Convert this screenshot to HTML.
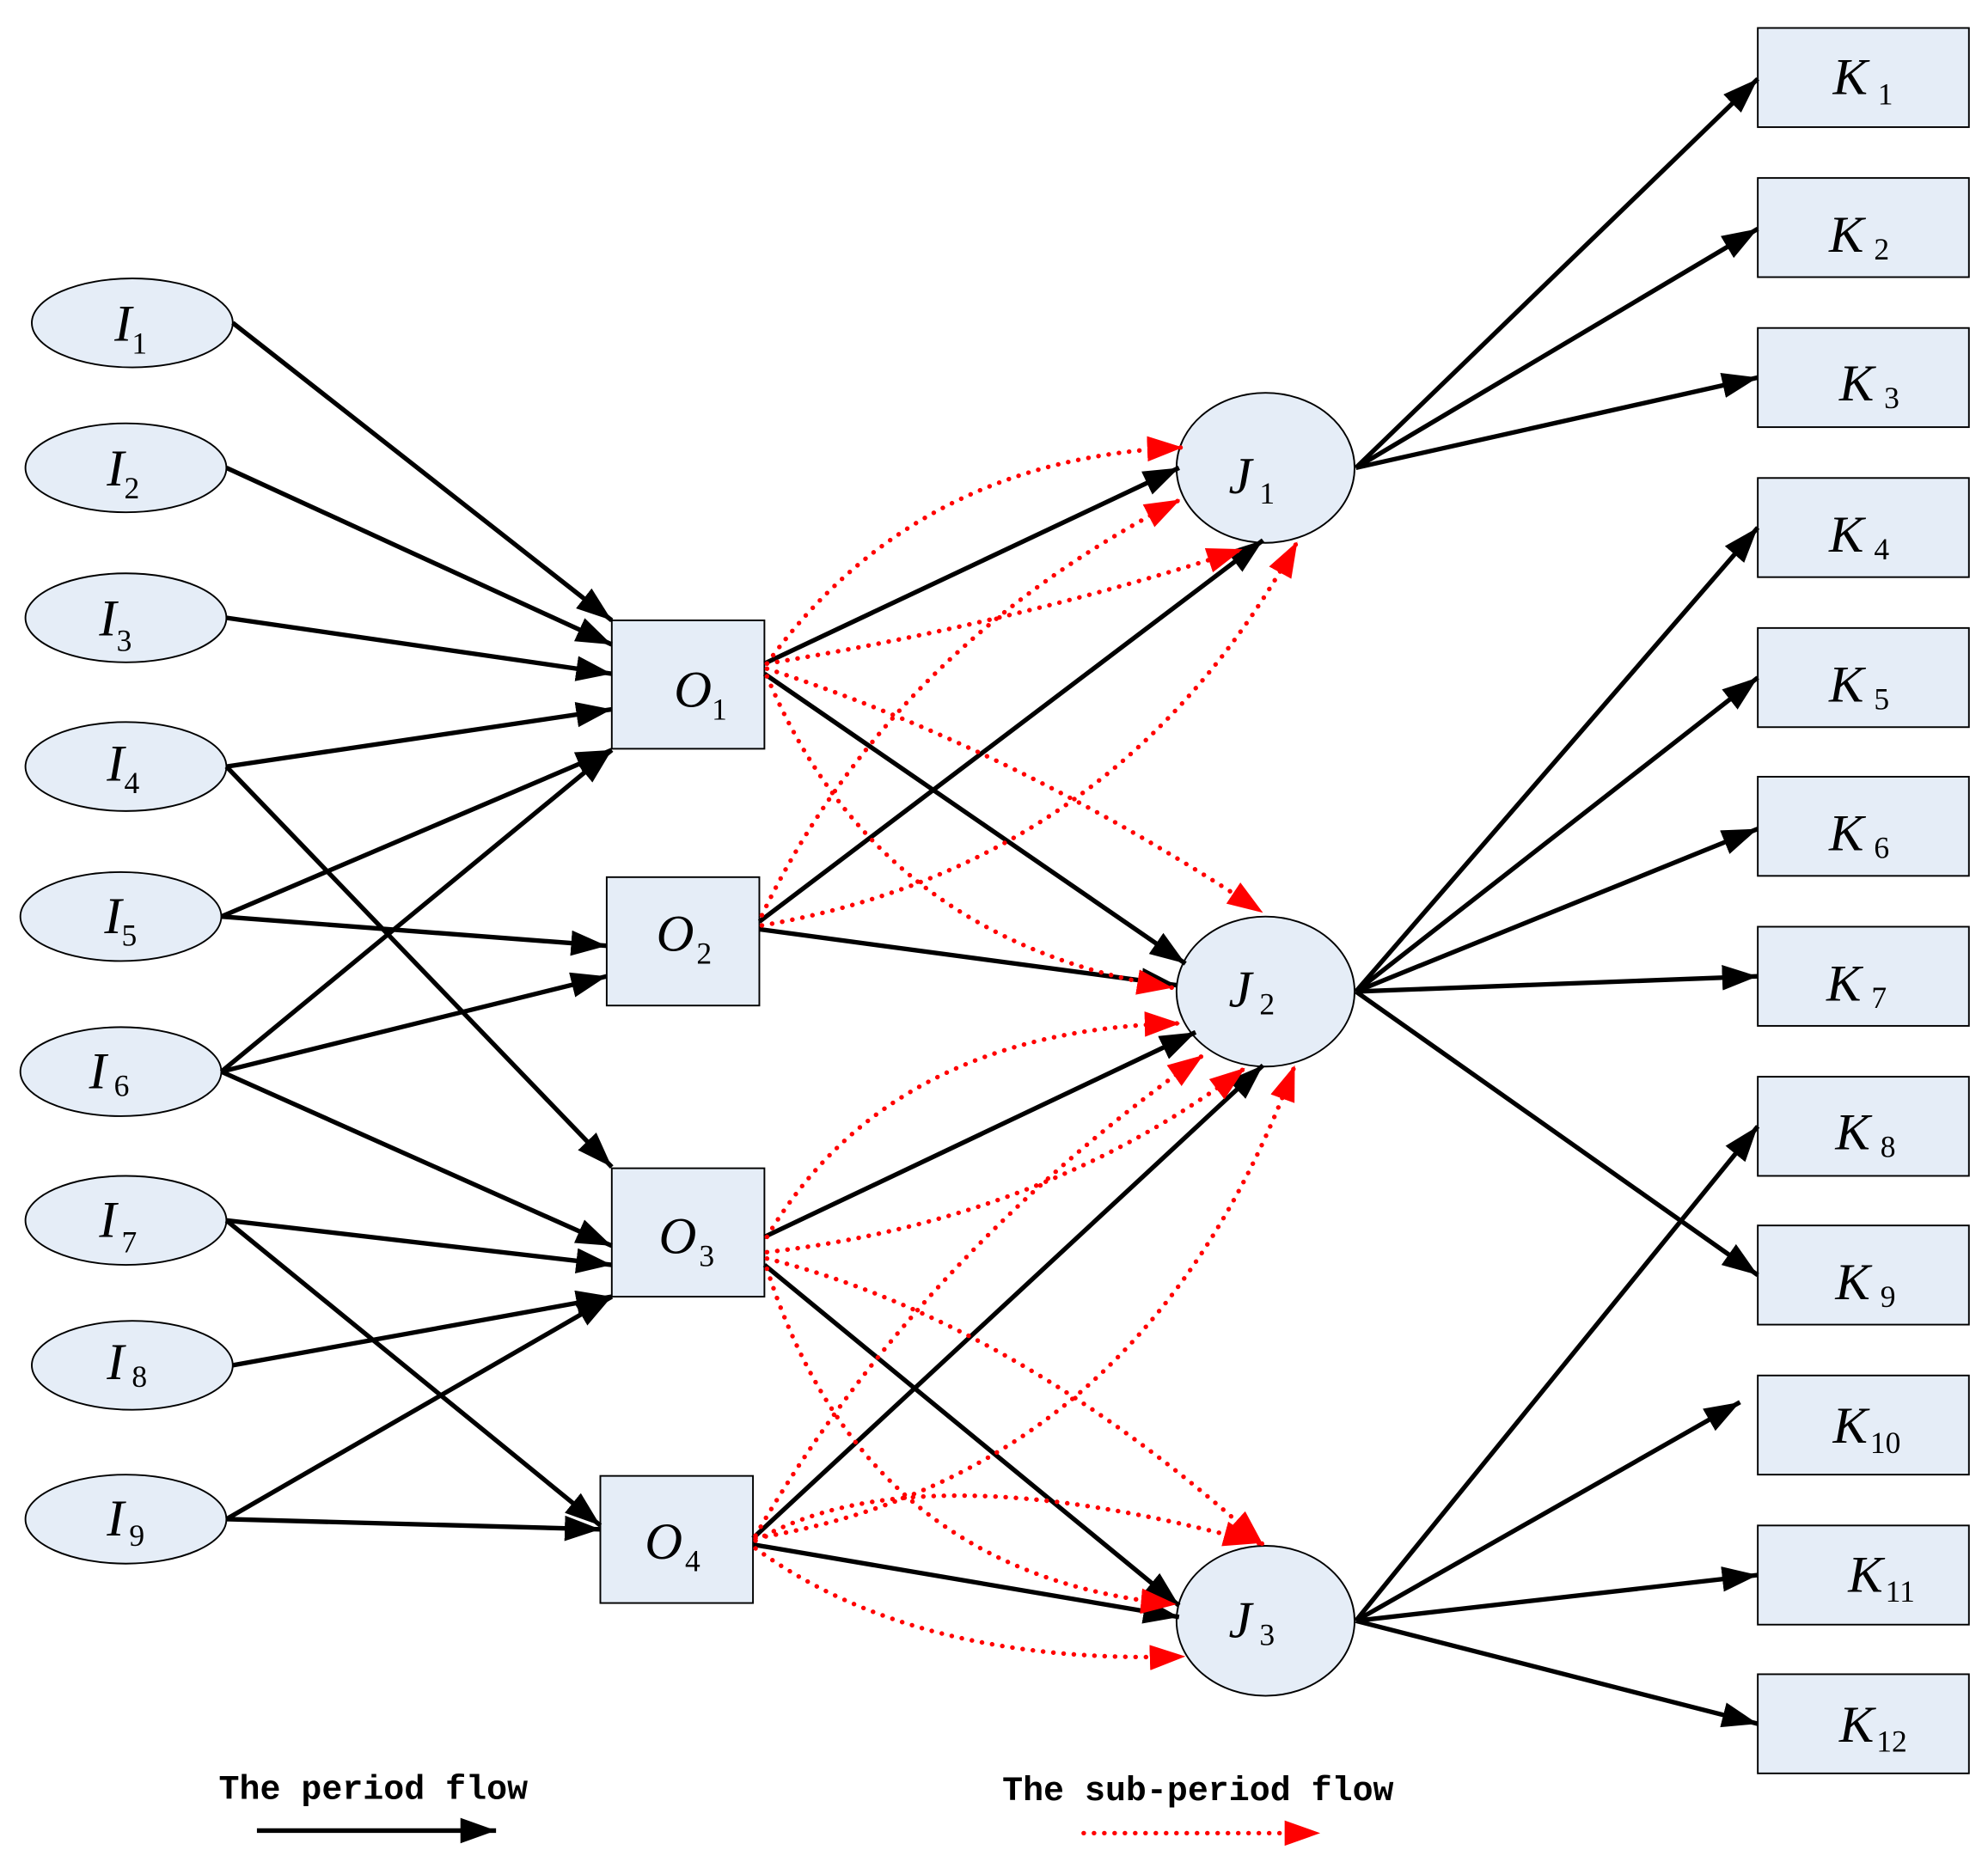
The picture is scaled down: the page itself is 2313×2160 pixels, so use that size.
<!DOCTYPE html>
<html><head><meta charset="utf-8"><style>
html,body{margin:0;padding:0;background:#fff;}
svg{display:block;}
.n{fill:#e5edf7;stroke:#000;stroke-width:1.3;}
.b{stroke:#000;stroke-width:3.6;fill:none;marker-end:url(#ab);}
.r{stroke:#f00;stroke-width:3.6;fill:none;stroke-dasharray:0.1 8;stroke-linecap:round;marker-end:url(#ar);}
.t{font-family:"Liberation Serif",serif;font-style:italic;font-size:41px;}
.s{font-family:"Liberation Serif",serif;font-size:24px;font-style:normal;}
.lg{font-family:"Liberation Mono",monospace;font-weight:bold;font-size:27px;}
</style></head><body>
<svg width="2313" height="2160" viewBox="0 0 1563 1460" preserveAspectRatio="none" xmlns="http://www.w3.org/2000/svg">
<defs>
<marker id="ab" markerUnits="userSpaceOnUse" markerWidth="32" markerHeight="24" refX="28" refY="10" orient="auto"><path d="M0,0 L28,10 L0,20 z" fill="#000"/></marker>
<marker id="ar" markerUnits="userSpaceOnUse" markerWidth="32" markerHeight="24" refX="28" refY="10" orient="auto"><path d="M0,0 L28,10 L0,20 z" fill="#f00"/></marker>
</defs>

<ellipse class="n" cx="104" cy="254" rx="79" ry="35"/>
<ellipse class="n" cx="99" cy="368" rx="79" ry="35"/>
<ellipse class="n" cx="99" cy="486" rx="79" ry="35"/>
<ellipse class="n" cx="99" cy="603" rx="79" ry="35"/>
<ellipse class="n" cx="95" cy="721" rx="79" ry="35"/>
<ellipse class="n" cx="95" cy="843" rx="79" ry="35"/>
<ellipse class="n" cx="99" cy="960" rx="79" ry="35"/>
<ellipse class="n" cx="104" cy="1074" rx="79" ry="35"/>
<ellipse class="n" cx="99" cy="1195" rx="79" ry="35"/>
<text class="t" x="90" y="268">I<tspan class="s" dy="10">1</tspan></text>
<text class="t" x="84" y="382">I<tspan class="s" dy="10">2</tspan></text>
<text class="t" x="78" y="500">I<tspan class="s" dy="12">3</tspan></text>
<text class="t" x="84" y="614">I<tspan class="s" dy="10">4</tspan></text>
<text class="t" x="82" y="734">I<tspan class="s" dy="10">5</tspan></text>
<text class="t" x="70" y="856">I<tspan class="s" dx="6" dy="6">6</tspan></text>
<text class="t" x="78" y="973">I<tspan class="s" dx="4" dy="12">7</tspan></text>
<text class="t" x="84" y="1085">I<tspan class="s" dx="6" dy="6">8</tspan></text>
<text class="t" x="84" y="1208">I<tspan class="s" dx="4" dy="8">9</tspan></text>

<rect class="n" x="481" y="488" width="120" height="101"/>
<rect class="n" x="477" y="690" width="120" height="101"/>
<rect class="n" x="481" y="919" width="120" height="101"/>
<rect class="n" x="472" y="1161" width="120" height="100"/>
<text class="t" x="530" y="556">O<tspan class="s" dy="10">1</tspan></text>
<text class="t" x="516" y="748">O<tspan class="s" dx="2" dy="10">2</tspan></text>
<text class="t" x="518" y="986">O<tspan class="s" dx="2" dy="10">3</tspan></text>
<text class="t" x="507" y="1226">O<tspan class="s" dx="2" dy="10">4</tspan></text>

<ellipse class="n" cx="995" cy="368" rx="70" ry="59"/>
<ellipse class="n" cx="995" cy="780" rx="70" ry="59"/>
<ellipse class="n" cx="995" cy="1275" rx="70" ry="59"/>
<text class="t" x="966" y="388">J<tspan class="s" dx="6" dy="8">1</tspan></text>
<text class="t" x="966" y="792">J<tspan class="s" dx="6" dy="6">2</tspan></text>
<text class="t" x="966" y="1288">J<tspan class="s" dx="6" dy="6">3</tspan></text>

<rect class="n" x="1382" y="22" width="166" height="78"/>
<rect class="n" x="1382" y="140" width="166" height="78"/>
<rect class="n" x="1382" y="258" width="166" height="78"/>
<rect class="n" x="1382" y="376" width="166" height="78"/>
<rect class="n" x="1382" y="494" width="166" height="78"/>
<rect class="n" x="1382" y="611" width="166" height="78"/>
<rect class="n" x="1382" y="729" width="166" height="78"/>
<rect class="n" x="1382" y="847" width="166" height="78"/>
<rect class="n" x="1382" y="964" width="166" height="78"/>
<rect class="n" x="1382" y="1082" width="166" height="78"/>
<rect class="n" x="1382" y="1200" width="166" height="78"/>
<rect class="n" x="1382" y="1317" width="166" height="78"/>
<text class="t" x="1441" y="74">K<tspan class="s" dx="8" dy="8">1</tspan></text>
<text class="t" x="1438" y="198">K<tspan class="s" dx="8" dy="6">2</tspan></text>
<text class="t" x="1446" y="315">K<tspan class="s" dx="8" dy="6">3</tspan></text>
<text class="t" x="1438" y="434">K<tspan class="s" dx="8" dy="6">4</tspan></text>
<text class="t" x="1438" y="552">K<tspan class="s" dx="8" dy="6">5</tspan></text>
<text class="t" x="1438" y="669">K<tspan class="s" dx="8" dy="6">6</tspan></text>
<text class="t" x="1436" y="787">K<tspan class="s" dx="8" dy="6">7</tspan></text>
<text class="t" x="1443" y="904">K<tspan class="s" dx="8" dy="6">8</tspan></text>
<text class="t" x="1443" y="1022">K<tspan class="s" dx="8" dy="6">9</tspan></text>
<text class="t" x="1441" y="1135">K<tspan class="s" dx="2" dy="8">10</tspan></text>
<text class="t" x="1453" y="1252">K<tspan class="s" dx="2" dy="8">11</tspan></text>
<text class="t" x="1446" y="1370">K<tspan class="s" dx="2" dy="8">12</tspan></text>

<line class="b" x1="183" y1="254" x2="481" y2="488"/>
<line class="b" x1="178" y1="368" x2="481" y2="507"/>
<line class="b" x1="178" y1="486" x2="481" y2="530"/>
<line class="b" x1="178" y1="603" x2="481" y2="558"/>
<line class="b" x1="178" y1="603" x2="481" y2="918"/>
<line class="b" x1="174" y1="721" x2="481" y2="590"/>
<line class="b" x1="174" y1="721" x2="477" y2="744"/>
<line class="b" x1="174" y1="843" x2="481" y2="590"/>
<line class="b" x1="174" y1="843" x2="477" y2="768"/>
<line class="b" x1="174" y1="843" x2="481" y2="980"/>
<line class="b" x1="178" y1="960" x2="481" y2="995"/>
<line class="b" x1="178" y1="960" x2="472" y2="1200"/>
<line class="b" x1="183" y1="1074" x2="481" y2="1020"/>
<line class="b" x1="178" y1="1195" x2="481" y2="1020"/>
<line class="b" x1="178" y1="1195" x2="472" y2="1203"/>

<line class="b" x1="601" y1="522" x2="927" y2="368"/>
<line class="b" x1="601" y1="530" x2="932" y2="758"/>
<line class="b" x1="597" y1="725" x2="993" y2="425"/>
<line class="b" x1="597" y1="731" x2="925" y2="775"/>
<line class="b" x1="601" y1="973" x2="940" y2="812"/>
<line class="b" x1="601" y1="995" x2="927" y2="1263"/>
<line class="b" x1="592" y1="1210" x2="993" y2="838"/>
<line class="b" x1="592" y1="1215" x2="927" y2="1272"/>

<line class="b" x1="1066" y1="368" x2="1382" y2="62"/>
<line class="b" x1="1066" y1="368" x2="1382" y2="180"/>
<line class="b" x1="1066" y1="368" x2="1382" y2="297"/>
<line class="b" x1="1066" y1="780" x2="1382" y2="415"/>
<line class="b" x1="1066" y1="780" x2="1382" y2="533"/>
<line class="b" x1="1066" y1="780" x2="1382" y2="652"/>
<line class="b" x1="1066" y1="780" x2="1382" y2="768"/>
<line class="b" x1="1066" y1="780" x2="1382" y2="1003"/>
<line class="b" x1="1066" y1="1275" x2="1382" y2="886"/>
<line class="b" x1="1066" y1="1275" x2="1368" y2="1103"/>
<line class="b" x1="1066" y1="1275" x2="1382" y2="1239"/>
<line class="b" x1="1066" y1="1275" x2="1382" y2="1356"/>

<path class="r" d="M603,522 Q720,360 930,352"/>
<path class="r" d="M603,522 Q800,490 977,432"/>
<path class="r" d="M603,526 Q800,590 993,718"/>
<path class="r" d="M603,532 Q690,740 922,777"/>
<path class="r" d="M599,720 Q700,510 928,393"/>
<path class="r" d="M599,728 Q880,680 1020,426"/>
<path class="r" d="M603,973 Q700,810 928,805"/>
<path class="r" d="M603,985 Q820,960 979,840"/>
<path class="r" d="M603,990 Q800,1040 993,1215"/>
<path class="r" d="M603,998 Q680,1240 925,1262"/>
<path class="r" d="M594,1208 Q720,990 946,830"/>
<path class="r" d="M594,1210 Q900,1160 1018,838"/>
<path class="r" d="M594,1212 Q720,1140 990,1214"/>
<path class="r" d="M594,1218 Q720,1310 932,1303"/>

<text class="lg" x="172" y="1415">The period flow</text>
<line class="b" x1="202" y1="1440" x2="390" y2="1440"/>
<text class="lg" x="788" y="1416">The sub-period flow</text>
<path class="r" d="M852,1442 L1038,1442"/>
</svg>
</body></html>
